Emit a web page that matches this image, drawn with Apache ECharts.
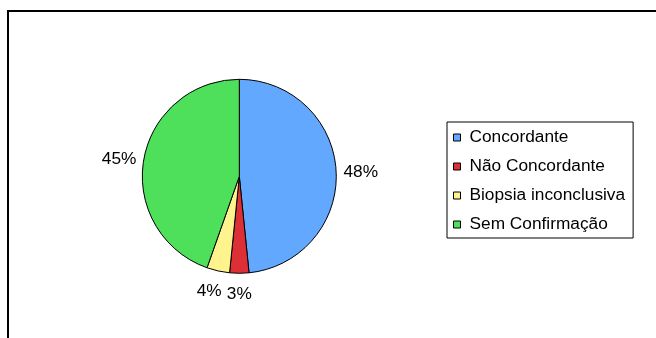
<!DOCTYPE html>
<html>
<head>
<meta charset="utf-8">
<title>Resultado da biopsia</title>
<script src="https://cdn.jsdelivr.net/npm/echarts@6/dist/echarts.min.js"></script>
<style>
  html, body { margin: 0; padding: 0; background: #ffffff; }
  #chart { width: 656px; height: 338px; }
</style>
</head>
<body>
<div id="chart"></div>
<script>
// Slice names, in drawing order (clockwise from 12 o'clock)
const categories = ['Concordante', 'Não Concordante', 'Biopsia inconclusiva', 'Sem Confirmação'];
// Share of cases per category, in percent
const shares = [48.4, 3.2, 3.8, 44.6];
// Fill colour per slice
const sliceColors = ['#62A8FF', '#DD3036', '#FFF38E', '#4EE05A'];

const FONT = '"Liberation Sans", Arial, sans-serif';
const FONT_SIZE = 17.3;
const CX = 239.3, CY = 176.3, R = 97;

const total = shares.reduce((a, b) => a + b, 0);

// Angle (radians, clockwise from 12 o'clock) of the middle of slice i
function midAngle(i) {
  let before = 0;
  for (let k = 0; k < i; k++) before += shares[k];
  return (before + shares[i] / 2) / total * Math.PI * 2;
}

function clamp(v, lo, hi) { return Math.max(lo, Math.min(hi, v)); }

const chart = echarts.init(document.getElementById('chart'), null, { renderer: 'canvas' });

chart.setOption({
  animation: false,
  backgroundColor: '#ffffff',
  graphic: [{
    type: 'rect',
    silent: true,
    z: -10,
    shape: { x: 8, y: 11, width: 700, height: 400 },
    style: { fill: 'none', stroke: '#000000', lineWidth: 2 }
  }],
  legend: {
    orient: 'vertical',
    left: 447,
    top: 122,
    data: categories,
    icon: 'rect',
    itemWidth: 7,
    itemHeight: 7,
    itemGap: 12,
    padding: [7, 8, 5, 6],
    borderColor: '#000000',
    borderWidth: 1,
    selectedMode: false,
    itemStyle: { borderColor: '#000000', borderWidth: 1 },
    textStyle: {
      fontFamily: FONT,
      fontSize: FONT_SIZE,
      color: '#000000',
      padding: [0, 0, 0, 4]
    }
  },
  series: [{
    type: 'pie',
    center: [CX, CY],
    radius: R,
    startAngle: 90,
    clockwise: true,
    avoidLabelOverlap: false,
    data: categories.map((name, i) => ({
      name: name,
      value: shares[i],
      itemStyle: { color: sliceColors[i] }
    })),
    itemStyle: { borderColor: '#000000', borderWidth: 1 },
    label: {
      show: true,
      position: 'outside',
      formatter: p => Math.round(p.percent) + '%',
      fontFamily: FONT,
      fontSize: FONT_SIZE,
      color: '#000000'
    },
    labelLine: { show: false },
    emphasis: { disabled: true },
    // Put each percentage just outside the rim along the slice's mid-angle ray,
    // leaning the text box toward the side the ray points to
    labelLayout: function (p) {
      const a = midAngle(p.dataIndex);
      const dx = Math.sin(a), dy = -Math.cos(a);
      const hw = p.labelRect.width / 2, hh = p.labelRect.height / 2;
      const d0 = R + 7.3 + 3 * dy * dy;
      return {
        x: CX + dx * d0 + hw * clamp(dx * 2.5, -1, 1),
        y: CY + dy * d0 + hh * dy + 2,
        align: 'center',
        verticalAlign: 'middle'
      };
    }
  }]
});
</script>
</body>
</html>
